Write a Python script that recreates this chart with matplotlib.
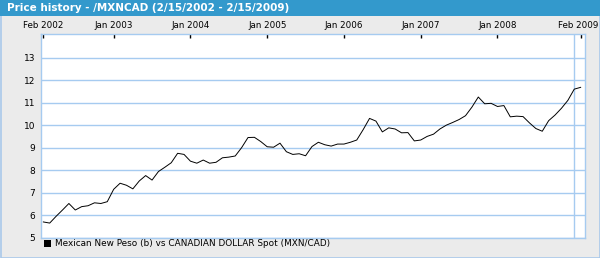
import matplotlib
matplotlib.use("Agg")
import matplotlib.pyplot as plt
from matplotlib.patches import Rectangle
from matplotlib.transforms import ScaledTranslation
import numpy as np

title = "Price history - /MXNCAD (2/15/2002 - 2/15/2009)"
series_name = "Mexican New Peso (b) vs CANADIAN DOLLAR Spot (MXN/CAD)"
start_year, start_month = 2002, 2
values = [5.70, 5.65, 5.95, 6.23, 6.52, 6.23, 6.38, 6.42, 6.55, 6.52, 6.60,
          7.15, 7.42, 7.33, 7.17, 7.52, 7.76, 7.56, 7.94, 8.13, 8.33, 8.75, 8.70,
          8.40, 8.31, 8.45, 8.31, 8.35, 8.55, 8.58, 8.63, 9.00, 9.45, 9.46, 9.27,
          9.04, 9.02, 9.20, 8.82, 8.70, 8.73, 8.64, 9.05, 9.24, 9.13, 9.07, 9.16,
          9.16, 9.24, 9.34, 9.80, 10.30, 10.18, 9.70, 9.88, 9.83, 9.66, 9.67, 9.30,
          9.34, 9.50, 9.60, 9.83, 10.00, 10.12, 10.25, 10.42, 10.80, 11.25, 10.95, 10.97,
          10.83, 10.87, 10.37, 10.40, 10.38, 10.10, 9.85, 9.73, 10.20, 10.45, 10.75, 11.10,
          11.60, 11.68]
tick_labels = ["Feb 2002", "Jan 2003", "Jan 2004", "Jan 2005", "Jan 2006",
               "Jan 2007", "Jan 2008", "Feb 2009"]
grid_years = [2003, 2004, 2005, 2006, 2007, 2008, 2009]
y_ticks = [5, 6, 7, 8, 9, 10, 11, 12, 13]

mnames = ["Jan", "Feb", "Mar", "Apr", "May", "Jun", "Jul", "Aug", "Sep", "Oct", "Nov", "Dec"]
def month_index(label):
    m, y = label.split()
    return (int(y) - start_year) * 12 + mnames.index(m) + 1 - start_month

tick_pos = [month_index(l) for l in tick_labels]
grid_pos = [month_index("Jan %d" % y) for y in grid_years]

W, H = 600, 258
fig = plt.figure(figsize=(W / 100, H / 100), dpi=100)
fig.patch.set_facecolor("#ebebeb")

def px(x0, y0, w, h):
    return (x0 / W, 1 - (y0 + h) / H, w / W, h / H)

# outer border
b = px(0.5, 0.5, W - 1, H - 1)
fig.patches.append(Rectangle(b[:2], b[2], b[3], transform=fig.transFigure,
                             facecolor="none", edgecolor="#a9c9ea", lw=1.2))
# title bar
t = px(0, 0, W, 16)
fig.patches.append(Rectangle(t[:2], t[2], t[3], transform=fig.transFigure,
                             facecolor="#3399cc", edgecolor="none"))
fig.text(7 / W, 1 - 8 / H, title, color="white", fontsize=7.5, fontweight="bold",
         va="center", ha="left")

ax = fig.add_axes(px(41, 34, 544, 203.7))
ax.set_facecolor("white")
x = np.arange(len(values))
ax.plot(x, values, color="black", lw=0.7, antialiased=True)
ax.set_xlim(-0.36, 84.68)
ax.set_ylim(5, 14.05)

ax.set_xticks(tick_pos)
ax.set_xticklabels(tick_labels)
ax.set_xticks(grid_pos, minor=True)
ax.xaxis.tick_top()
ax.tick_params(axis="x", which="major", direction="in", length=3, width=1,
               color="black", labelsize=6.3, pad=3, labeltop=True, labelbottom=False)
ax.tick_params(axis="x", which="minor", length=0)
ax.grid(True, axis="x", which="minor", color="#a6cbf0", lw=1)
last = ax.get_xticklabels()[-1]
last.set_transform(last.get_transform() + ScaledTranslation(-2 / 100, 0, fig.dpi_scale_trans))

ax.set_yticks(y_ticks)
ax.set_yticklabels([str(v) for v in y_ticks])
ax.tick_params(axis="y", length=0, labelsize=6.5, pad=4)
ax.grid(True, axis="y", which="major", color="#a6cbf0", lw=1)
ax.set_axisbelow(True)
for s in ax.spines.values():
    s.set_color("#a6cbf0")
    s.set_linewidth(1)

# legend
lg = px(44, 240, 7, 7)
fig.patches.append(Rectangle(lg[:2], lg[2], lg[3], transform=fig.transFigure,
                             facecolor="black", edgecolor="none"))
fig.text(55 / W, 1 - 243.5 / H, series_name, fontsize=6.4, va="center", ha="left",
         color="black")

fig.savefig("out.png", dpi=100, facecolor=fig.get_facecolor())
